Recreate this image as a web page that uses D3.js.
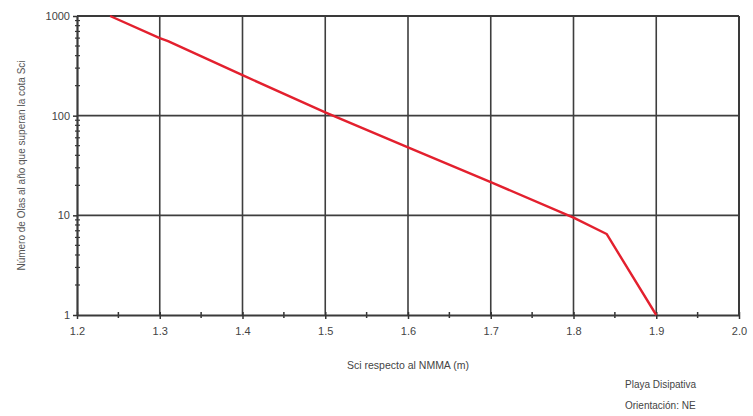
<!DOCTYPE html>
<html>
<head>
<meta charset="utf-8">
<script src="https://cdn.jsdelivr.net/npm/d3@7"></script>
<style>
  html, body { margin: 0; padding: 0; background: #fff; }
  svg { display: block; font-family: "Liberation Sans", Arial, sans-serif; }
</style>
</head>
<body>
<svg id="chart" width="753" height="416"></svg>
<script>
// Exceedance curve: waves per year above each Sci level
const sciLevels = [1.24, 1.30, 1.31, 1.40, 1.50, 1.60, 1.70, 1.80, 1.84, 1.90];
const wavesPerYear = [1000, 600, 560, 255, 108, 48, 21.5, 9.5, 6.5, 1];

const xTickValues = [1.2, 1.3, 1.4, 1.5, 1.6, 1.7, 1.8, 1.9, 2.0];
const xTickLabels = ["1.2", "1.3", "1.4", "1.5", "1.6", "1.7", "1.8", "1.9", "2.0"];
const yTickValues = [1, 10, 100, 1000];
const yTickLabels = ["1", "10", "100", "1000"];

const xTitle = "Sci respecto al NMMA (m)";
const yTitle = "Número de Olas al año que superan la cota Sci";
const notes = ["Playa Disipativa", "Orientación: NE"];

(function () {
  const svg = d3.select("#chart");
  const plotLeft = 77, plotRight = 739, plotTop = 16, plotBottom = 315;

  const x = d3.scaleLinear().domain([1.2, 2.0]).range([plotLeft, plotRight]);
  const y = d3.scaleLog().domain([1, 1000]).range([plotBottom, plotTop]);

  const gridColor = "#3e3e3e";

  // grid lines
  const grid = svg.append("g");
  grid.selectAll("line.vx").data(xTickValues.slice(1)).join("line")
    .attr("x1", d => x(d)).attr("x2", d => x(d))
    .attr("y1", plotTop).attr("y2", plotBottom)
    .attr("stroke", gridColor).attr("stroke-width", 1.6);
  grid.selectAll("line.hy").data(yTickValues.slice(1)).join("line")
    .attr("x1", plotLeft).attr("x2", plotRight)
    .attr("y1", d => y(d)).attr("y2", d => y(d))
    .attr("stroke", gridColor).attr("stroke-width", 1.6);

  // minor ticks
  const xMinor = d3.range(1.25, 2.0, 0.1);
  svg.append("g").selectAll("line").data(xMinor).join("line")
    .attr("x1", d => x(d)).attr("x2", d => x(d))
    .attr("y1", plotBottom - 3).attr("y2", plotBottom + 3)
    .attr("stroke", "#333").attr("stroke-width", 1.5);

  const yMinor = [];
  [1, 10, 100].forEach(dec => { for (let k = 2; k <= 9; k++) yMinor.push(dec * k); });
  svg.append("g").selectAll("line").data(yMinor).join("line")
    .attr("x1", plotLeft - 2).attr("x2", plotLeft + 3)
    .attr("y1", d => y(d)).attr("y2", d => y(d))
    .attr("stroke", "#333").attr("stroke-width", 1.2);

  // axes
  const xAxis = d3.axisBottom(x).tickValues(xTickValues)
    .tickFormat((d, i) => xTickLabels[i]).tickSize(4).tickSizeOuter(0).tickPadding(8);
  const gx = svg.append("g").attr("transform", `translate(0,${plotBottom})`).call(xAxis);
  gx.select(".domain").attr("stroke", "#3a3a3a").attr("stroke-width", 2.2);
  gx.selectAll(".tick line").attr("stroke", "#333").attr("stroke-width", 1.5).attr("y1", -3);
  gx.selectAll(".tick text").attr("fill", "#444").attr("font-size", 11);

  const yAxis = d3.axisLeft(y).tickValues(yTickValues)
    .tickFormat((d, i) => yTickLabels[i]).tickSize(4).tickSizeOuter(0).tickPadding(3);
  const gy = svg.append("g").attr("transform", `translate(${plotLeft},0)`).call(yAxis);
  gy.select(".domain").attr("stroke", "#3a3a3a").attr("stroke-width", 2.2);
  gy.selectAll(".tick line").attr("stroke", "#333").attr("stroke-width", 1.5);
  gy.selectAll(".tick text").attr("fill", "#444").attr("font-size", 11);

  // top and right frame
  svg.append("line").attr("x1", plotLeft).attr("x2", plotRight).attr("y1", plotTop).attr("y2", plotTop)
    .attr("stroke", "#3a3a3a").attr("stroke-width", 2);
  svg.append("line").attr("x1", plotRight).attr("x2", plotRight).attr("y1", plotTop).attr("y2", plotBottom)
    .attr("stroke", "#3a3a3a").attr("stroke-width", 2);

  // exceedance curve
  const pts = sciLevels.map((s, i) => [s, wavesPerYear[i]]);
  svg.append("path")
    .datum(pts)
    .attr("fill", "none")
    .attr("stroke", "#e3202e")
    .attr("stroke-width", 2.4)
    .attr("stroke-linejoin", "round")
    .attr("d", d3.line().x(d => x(d[0])).y(d => y(d[1])));

  // titles
  svg.append("text")
    .attr("x", (plotLeft + plotRight) / 2).attr("y", 369)
    .attr("text-anchor", "middle").attr("font-size", 10.5).attr("fill", "#444")
    .text(xTitle);

  svg.append("text")
    .attr("transform", `translate(25,${(plotTop + plotBottom) / 2}) rotate(-90)`)
    .attr("text-anchor", "middle").attr("font-size", 10).attr("fill", "#555")
    .text(yTitle);

  svg.selectAll("text.note").data(notes).join("text")
    .attr("class", "note")
    .attr("x", 625).attr("y", (d, i) => 388 + i * 21)
    .attr("font-size", 10).attr("fill", "#444")
    .text(d => d);
})();
</script>
</body>
</html>
